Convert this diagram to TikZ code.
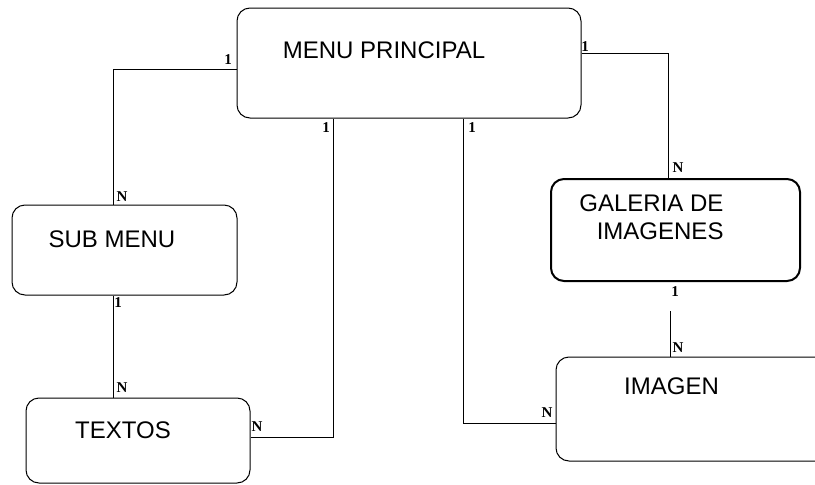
\documentclass[tikz,border=0pt]{standalone}
\usepackage{fontspec}
\setmainfont{Liberation Sans}
\newfontfamily\cardfont{Liberation Serif}
\usetikzlibrary{positioning,calc}

\begin{document}
\begin{tikzpicture}[x=1pt,y=-1pt,line width=1pt,
        box/.style={draw,rectangle,rounded corners=13pt,inner sep=0pt},
        txt/.style={font=\fontsize{24}{28}\selectfont,inner sep=0pt},
        card/.style={font=\cardfont\bfseries\fontsize{15}{15}\selectfont,inner sep=0pt}]
   \useasboundingbox (0,0) rectangle (815,485);

   % entidades
   \node (MP) [box,minimum width=344pt,minimum height=110pt] at (409,63) {};
   \node (SM) [box,minimum width=225pt,minimum height=90pt] at (124.5,250) {};
   \node (TX) [box,minimum width=224pt,minimum height=85pt] at (138,440.5) {};
   \node (GI) [box,line width=2pt,minimum width=249pt,minimum height=102pt] at (675.5,230) {};
   \node (IM) [box,minimum width=274pt,minimum height=104pt] at (693,409) {};

   \node (MPt) [txt] at (384,50) {MENU PRINCIPAL};
   \node (SMt) [txt] at (112,239) {SUB MENU};
   \node (TXt) [txt] at (123,430) {TEXTOS};
   \node (GIt) [txt,align=right,anchor=east] at (724,217) {GALERIA DE\\IMAGENES};
   \node (IMt) [txt] at (671.5,386) {IMAGEN};

   % relaciones
   \draw ([yshift=-6pt]MP.west) -| ([xshift=-11.5pt]SM.north);
   \draw ([yshift=10pt]MP.east) -| ([xshift=-7.5pt]GI.north);
   \draw ([xshift=-76pt]MP.south) |- ([yshift=3.5pt]TX.east);
   \draw ([xshift=54pt]MP.south) |- ([yshift=-14pt]IM.west);
   \draw ([xshift=-11.5pt]SM.south) -- ([xshift=-25pt]TX.north);
   \draw[shorten <=29pt] ([xshift=-5.5pt]GI.south) -- ([xshift=-23pt]IM.north);

   % cardinalidades
   \node (c1) [card] at (228,60) {1};
   \node (c2) [card] at (122,197) {N};
   \node (c3) [card] at (585,47) {1};
   \node (c4) [card] at (678,168) {N};
   \node (c5) [card] at (326,128) {1};
   \node (c6) [card] at (472,128) {1};
   \node (c7) [card] at (118,303) {1};
   \node (c8) [card] at (122,388) {N};
   \node (c9) [card] at (257,427) {N};
   \node (c10) [card] at (675,292) {1};
   \node (c11) [card] at (678,348) {N};
   \node (c12) [card] at (547,413) {N};
\end{tikzpicture}
\end{document}
